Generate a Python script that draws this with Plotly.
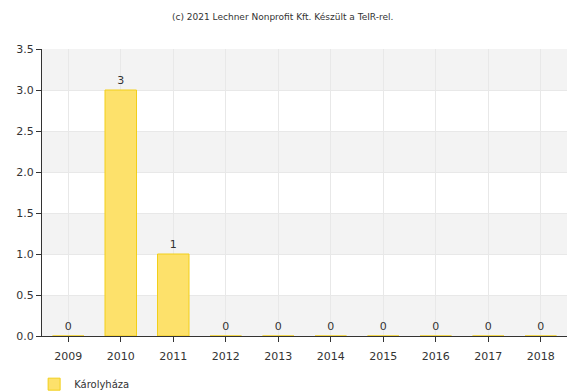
import plotly.graph_objects as go

# data
years = ["2009", "2010", "2011", "2012", "2013", "2014", "2015", "2016", "2017", "2018"]
values = [0, 3, 1, 0, 0, 0, 0, 0, 0, 0]
series_name = "Károlyháza"
credit = "(c) 2021 Lechner Nonprofit Kft. Készült a TeIR-rel."

fig = go.Figure()
fig.add_trace(go.Bar(
    x=years, y=values, name=series_name,
    marker=dict(color="#FDE16B", line=dict(color="#F2CF1A", width=1)),
    width=0.6,
    text=[str(v) for v in values], textposition="outside",
    textfont=dict(family="DejaVu Sans", size=11, color="#333333"),
    cliponaxis=False,
))

# alternating horizontal bands
shapes = []
for lo in [0, 1.0, 2.0, 3.0]:
    shapes.append(dict(type="rect", xref="paper", yref="y", x0=0, x1=1, y0=lo, y1=lo + 0.5,
                       fillcolor="#F3F3F3", line=dict(width=0), layer="below"))

fig.update_layout(
    width=567, height=392,
    margin=dict(l=42, r=0, t=49, b=56, autoexpand=False),
    paper_bgcolor="white", plot_bgcolor="white",
    font=dict(family="DejaVu Sans", size=11, color="#333333"),
    shapes=shapes,
    showlegend=True,
    legend=dict(orientation="h", x=-0.015, y=0.02, xanchor="left", yanchor="middle",
                yref="container", font=dict(size=10), itemwidth=30),
    annotations=[dict(text=credit, xref="paper", yref="paper", x=0.459, y=1.0,
                      yshift=39, showarrow=False, font=dict(size=9, color="#333333"))],
)
fig.update_xaxes(
    showgrid=True, gridcolor="#E8E8E8", ticks="outside", ticklen=5, tickcolor="#333333",
    showline=True, linecolor="#333333", linewidth=1, automargin=False,
    ticklabelstandoff=5, tickfont=dict(size=11),
)
fig.update_yaxes(
    range=[0, 3.5], dtick=0.5, tickformat=".1f", automargin=False,
    showgrid=True, gridcolor="#E8E8E8", ticks="outside", ticklen=5, tickcolor="#333333",
    showline=True, linecolor="#333333", linewidth=1, zeroline=False,
    tickfont=dict(size=11),
)

# drop the default body margin so the figure sits at the window corner
fig.write_html("out.html", config={"displayModeBar": False},
               post_script="document.body.style.margin='0';")
